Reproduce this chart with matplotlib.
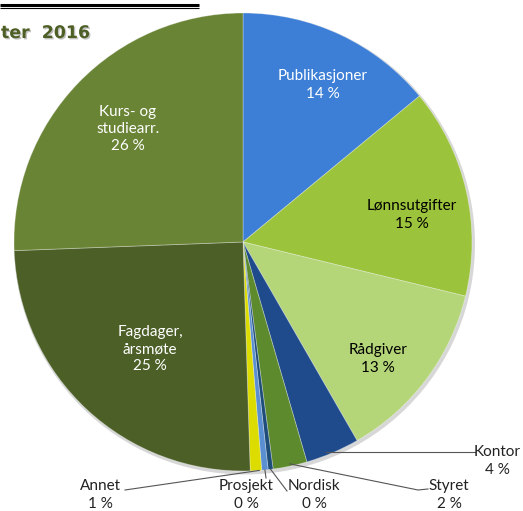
import numpy as np
import matplotlib.pyplot as plt
import matplotlib.patheffects as pe

# slice values, clockwise from 12 o'clock
labels = ['Publikasjoner', 'Lønnsutgifter', 'Rådgiver', 'Kontor', 'Styret',
          'Nordisk', 'Prosjekt', 'Annet', 'Fagdager,\nårsmøte', 'Kurs- og\nstudiearr.']
values = [14, 14.8, 12.9, 3.8, 2.4, 0.35, 0.45, 0.8, 24.9, 25.6]
colors = ['#3d7fd6', '#9cc33c', '#b4d678', '#1f4b8c', '#5c8a2d',
          '#1d4d78', '#5a8fd2', '#dcdc00', '#4b5f27', '#6a8436']

W, H = 523, 511
fig = plt.figure(figsize=(W / 100, H / 100), dpi=100)
ax = fig.add_axes([0, 0, 1, 1])

font = 'Lato'

def y_(y):
    # convert pixel row from top to data y
    return H - y

cx, cy, R = 243, y_(242), 229

# soft shadow behind the pie
ax.add_patch(plt.Circle((cx + 1.5, cy - 2), R + 1.5, color='#b0b0b0', alpha=0.5, lw=0))

wedges, _ = ax.pie(values, colors=colors, startangle=90, counterclock=False,
                   center=(cx, cy), radius=R, frame=True,
                   wedgeprops=dict(linewidth=0.6, edgecolor=(1, 1, 1, 0.35)))
ax.set_xlim(0, W)
ax.set_ylim(0, H)
ax.set_aspect('equal')
ax.axis('off')

total = sum(values)
pct = [f"{round(v / total * 100)} %" for v in values]

# inside labels: (x, y from top, text colour)
inside = {0: (323, 85, 'white'), 1: (412, 215, 'black'), 2: (378, 359, 'black'),
          8: (150, 349, 'white'), 9: (128, 129, 'white')}
for i, (x, y, c) in inside.items():
    ax.text(x, y_(y), f"{labels[i]}\n{pct[i]}", ha='center', va='center',
            color=c, fontsize=11, family=font, linespacing=1.3)

# outside labels with leader lines: label centre, line start, radius fraction on wedge
outside = {3: ((497, 461), (475, 452), 0.93),
           4: ((449, 495), (428, 489), 0.99),
           5: ((314, 495), (287, 491), 1.0),
           6: ((246, 495), (266, 478), 1.0),
           7: ((100, 495), (125, 490), 1.0)}
for i, ((lx, ly), (sx, sy), f) in outside.items():
    w = wedges[i]
    th = np.deg2rad((w.theta1 + w.theta2) / 2)
    if i == 7:
        th = np.deg2rad(w.theta2 - 0.6)
    px, py = cx + f * R * np.cos(th), cy + f * R * np.sin(th)
    if i == 3:
        ax.plot([sx, px], [y_(sy), y_(sy)], color='#555555', lw=0.8)
    elif i == 4:
        ax.plot([sx, sx - 10, px], [y_(sy), y_(sy + 1), py], color='#555555', lw=0.8)
    else:
        ax.plot([sx, px], [y_(sy), py], color='#555555', lw=0.8)
    ax.text(lx, y_(ly), f"{labels[i]}\n{pct[i]}", ha='center', va='center',
            color='#222222', fontsize=11, family=font, linespacing=1.3)

# page header remnants
ax.plot([0, 199], [y_(4.5), y_(4.5)], color='black', lw=2.2, solid_capstyle='butt')
ax.plot([0, 199], [y_(8), y_(8)], color='black', lw=0.8, solid_capstyle='butt')
ax.text(1, y_(33), 'ter  2016', ha='left', va='center', fontsize=12.5,
        fontweight='bold', color='#4d5f24', family='DejaVu Sans',
        path_effects=[pe.withSimplePatchShadow(offset=(1, -1), shadow_rgbFace='#999999', alpha=0.6)])

fig.savefig('out.png', dpi=100)
